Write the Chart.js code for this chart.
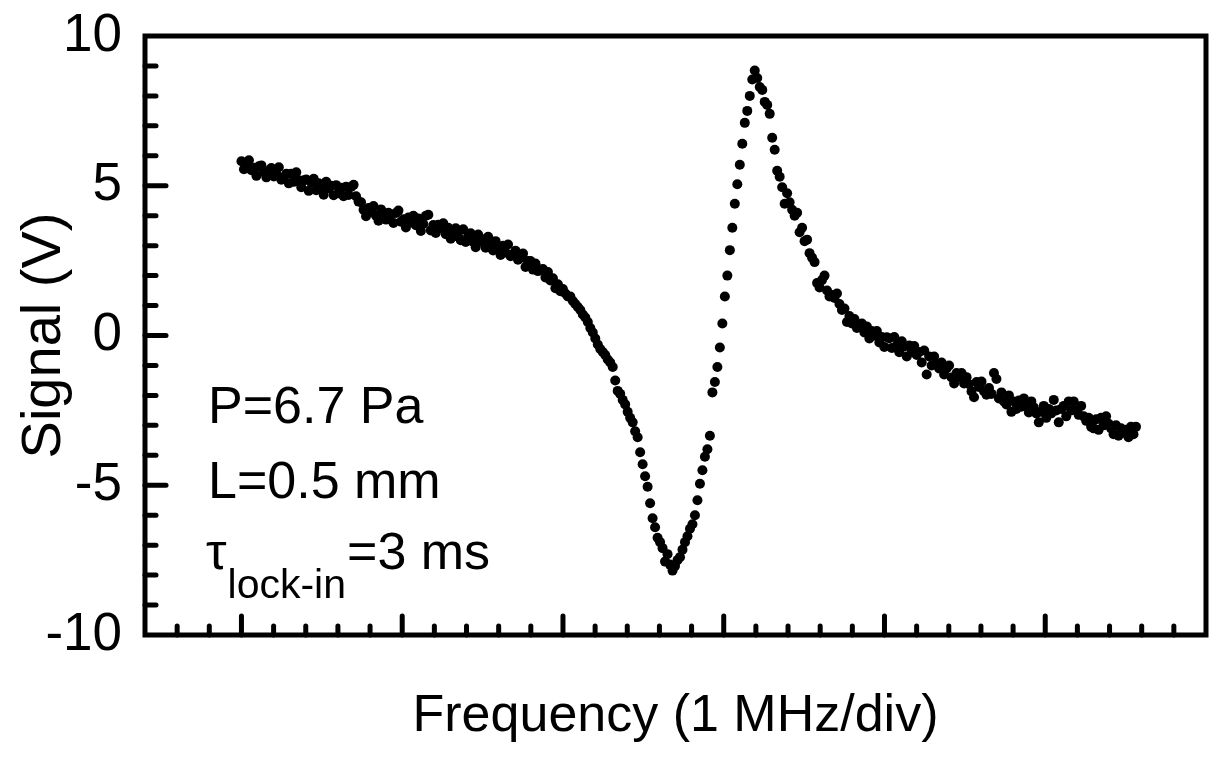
<!DOCTYPE html>
<html>
<head>
<meta charset="utf-8">
<title>Signal vs Frequency</title>
<script src="https://cdn.jsdelivr.net/npm/chart.js@4.4.1/dist/chart.umd.min.js"></script>
<style>
  html, body { margin: 0; padding: 0; background: #fff; }
  canvas { display: block; }
</style>
</head>
<body>
<canvas id="signalChart" width="1220" height="768"></canvas>
<script>
/*================== data =========================*/
// frequency sweep: first point and spacing, in divisions (1 MHz/div)
const freqStart = 0;
const freqStep = 0.0155;

// lock-in signal (V), one value per sweep point
const signal = [
  5.82, 5.55, 5.72, 5.85, 5.52, 5.6, 5.33, 5.65, 5.68, 5.45,
  5.28, 5.51, 5.59, 5.31, 5.39, 5.62, 5.2, 5.28, 5.4, 5.08,
  5.4, 5.13, 5.45, 5.18, 4.95, 5.18, 5.21, 4.83, 5.11, 5.23,
  4.85, 5.08, 4.92, 4.7, 5.13, 4.92, 5.0, 4.68, 5.02, 4.75,
  4.93, 4.65, 4.97, 4.69, 4.96, 5.03, 4.65, 4.47, 4.45, 4.2,
  3.98, 4.26, 4.14, 4.32, 4.0, 3.83, 4.21, 4.09, 3.87, 4.1,
  4.03, 3.76, 4.09, 4.17, 3.8, 3.88, 3.61, 3.94, 3.77, 4.0,
  3.68, 3.91, 3.49, 3.72, 4.0, 4.03, 3.51, 3.69, 3.42, 3.7,
  3.58, 3.75, 3.38, 3.6, 3.23, 3.5, 3.58, 3.3, 3.18, 3.55,
  3.12, 3.34, 3.41, 3.13, 2.95, 3.37, 3.14, 3.21, 2.93, 3.3,
  3.12, 2.84, 3.15, 2.92, 2.69, 3.0, 2.77, 3.04, 2.65, 2.72,
  2.83, 2.53, 2.59, 2.74, 2.29, 2.49, 2.49, 2.2, 2.4, 2.15,
  2.2, 2.22, 1.94, 2.12, 1.84, 1.91, 1.58, 1.71, 1.48, 1.55,
  1.4, 1.3, 1.3, 1.15, 1.05, 0.95, 0.85, 0.7, 0.6, 0.45,
  0.25, 0.1, -0.1, -0.3, -0.45, -0.55, -0.65, -0.8, -0.9, -1.05,
  -1.5, -1.85, -1.95, -2.15, -2.3, -2.55, -2.75, -2.9, -3.2, -3.4,
  -3.9, -4.3, -4.7, -5.05, -5.6, -6.1, -6.4, -6.75, -6.9, -7.1,
  -7.55, -7.3, -7.65, -7.85, -7.7, -7.5, -7.4, -7.15, -6.9, -6.7,
  -6.45, -6.3, -6.0, -5.5, -4.95, -4.5, -4.05, -3.8, -3.35, -1.9,
  -1.55, -1.05, -0.4, 0.4, 1.3, 2.0, 2.85, 3.6, 4.4, 5.05,
  5.7, 6.4, 7.1, 7.5, 8.0, 8.55, 8.85, 8.6, 8.3, 8.2,
  7.8, 7.7, 7.4, 6.6, 6.2, 5.5, 5.3, 4.95, 4.4, 4.75,
  4.45, 4.2, 4.0, 4.1, 3.45, 3.6, 3.15, 3.2, 2.75, 2.6,
  2.45, 1.75, 1.6, 1.85, 2.0, 1.5, 1.3, 1.35, 1.25, 1.4,
  1.05, 0.85, 0.9, 0.45, 0.65, 0.4, 0.55, 0.25, 0.35, 0.4,
  0.1, 0.3, -0.1, 0.15, 0.0, 0.15, -0.23, -0.05, -0.38, -0.06,
  -0.09, -0.42, -0.05, -0.33, -0.56, -0.19, -0.37, -0.7, -0.33, -0.56,
  -0.35, -0.65, -0.55, -0.9, -0.5, -1.3, -0.7, -1.0, -0.7, -0.95,
  -1.1, -0.9, -1.3, -1.1, -1.0, -1.4, -1.6, -1.25, -1.4, -1.25,
  -1.6, -1.39, -1.63, -1.87, -2.06, -1.55, -1.72, -1.54, -1.86, -1.98,
  -1.75, -1.95, -1.25, -1.45, -2.1, -1.9, -2.2, -2.3, -2.0, -2.55,
  -2.2, -2.45, -2.17, -2.38, -2.1, -2.35, -2.57, -2.2, -2.4, -2.6,
  -2.9, -2.55, -2.35, -2.75, -2.45, -2.6, -2.15, -2.5, -2.9, -2.45,
  -2.35, -2.7, -2.2, -2.5, -2.2, -2.5, -2.65, -2.35, -2.7, -2.85,
  -2.75, -3.05, -3.1, -2.8, -3.15, -2.75, -3.0, -2.7, -2.95, -3.1,
  -3.3, -3.0, -3.35, -3.1, -3.25, -3.15, -3.4, -3.05, -3.3, -3.05
];

// axis ranges and tick labels
const xRange = [-0.6, 6.0];
const xMajorTicks = [0, 1, 2, 3, 4, 5];
const xMinorStep = 0.2;
const yRange = [-10, 10];
const yTickLabels = [-10, -5, 0, 5, 10];
const yMinorStep = 1;

const notes = ['P=6.7 Pa', 'L=0.5 mm'];

const FONT = "'Liberation Sans', Arial, Helvetica, sans-serif";

const points = signal.map((v, i) => ({ x: freqStart + i * freqStep, y: v }));

/*================== frame, inward ticks and notes =========================*/
const framePlugin = {
  id: 'frame',
  afterDraw(chart) {
    const ctx = chart.ctx;
    const area = chart.chartArea;
    const xs = chart.scales.x;
    const ys = chart.scales.y;

    ctx.save();
    ctx.strokeStyle = '#000';
    ctx.lineWidth = 5;
    ctx.strokeRect(area.left, area.top, area.right - area.left, area.bottom - area.top);

    // x ticks along the bottom, pointing up
    ctx.lineCap = 'round';
    ctx.lineWidth = 5;
    const nx = Math.round((xRange[1] - xRange[0]) / xMinorStep);
    for (let k = 1; k < nx; k++) {
      const v = xRange[0] + k * xMinorStep;
      const major = xMajorTicks.some(m => Math.abs(m - v) < 1e-6);
      const px = xs.getPixelForValue(v);
      ctx.beginPath();
      ctx.moveTo(px, area.bottom);
      ctx.lineTo(px, area.bottom - (major ? 19 : 9));
      ctx.stroke();
    }

    // y ticks along the left, pointing right
    for (let v = yRange[0] + yMinorStep; v < yRange[1]; v += yMinorStep) {
      const major = yTickLabels.includes(v);
      const py = ys.getPixelForValue(v);
      ctx.beginPath();
      ctx.moveTo(area.left, py);
      ctx.lineTo(area.left + (major ? 21 : 11), py);
      ctx.stroke();
    }

    // measurement conditions
    ctx.fillStyle = '#000';
    ctx.textAlign = 'left';
    ctx.textBaseline = 'alphabetic';
    ctx.font = '52px ' + FONT;
    const tx = area.left + 63;
    ctx.fillText(notes[0], tx, 423);
    ctx.fillText(notes[1], tx, 498);

    const tau = '\u03C4';
    ctx.fillText(tau, tx - 2, 569);
    let cx = tx - 2 + ctx.measureText(tau).width + 1;
    ctx.font = '41px ' + FONT;
    ctx.fillText('lock-in', cx, 598);
    cx += ctx.measureText('lock-in').width + 1;
    ctx.font = '52px ' + FONT;
    ctx.fillText('=3 ms', cx, 569);
    ctx.restore();
  }
};

/*================== chart =========================*/
const ctx = document.getElementById('signalChart').getContext('2d');

const signalChart = new Chart(ctx, {
  type: 'scatter',
  data: {
    datasets: [{
      label: 'Signal',
      data: points,
      backgroundColor: '#000',
      borderColor: '#000',
      borderWidth: 0,
      pointRadius: 5,
      pointHoverRadius: 5
    }]
  },
  options: {
    responsive: false,
    animation: false,
    layout: { padding: { top: 36, right: 14, left: 0, bottom: 0 } },
    scales: {
      x: {
        type: 'linear',
        min: xRange[0],
        max: xRange[1],
        grid: { display: false },
        border: { display: false },
        ticks: { display: false },
        title: {
          display: true,
          text: 'Frequency (1 MHz/div)',
          color: '#000',
          font: { family: FONT, size: 52 },
          padding: { top: 0, bottom: 20 }
        },
        afterFit: scale => {
          scale.height = 133;
          scale.paddingLeft = 0;
          scale.paddingRight = 0;
        }
      },
      y: {
        min: yRange[0],
        max: yRange[1],
        grid: { display: false, drawTicks: false },
        border: { display: false },
        afterBuildTicks: scale => {
          scale.ticks = yTickLabels.map(v => ({ value: v }));
        },
        ticks: {
          color: '#000',
          padding: 23,
          font: { family: FONT, size: 53 }
        },
        title: {
          display: true,
          text: 'Signal (V)',
          color: '#000',
          font: { family: FONT, size: 56 },
          padding: { top: 11, bottom: 0 }
        },
        afterFit: scale => {
          scale.width = 145;
          scale.paddingTop = 0;
          scale.paddingBottom = 0;
        }
      }
    },
    plugins: {
      legend: { display: false },
      tooltip: { enabled: false }
    }
  },
  plugins: [framePlugin]
});
</script>
</body>
</html>
